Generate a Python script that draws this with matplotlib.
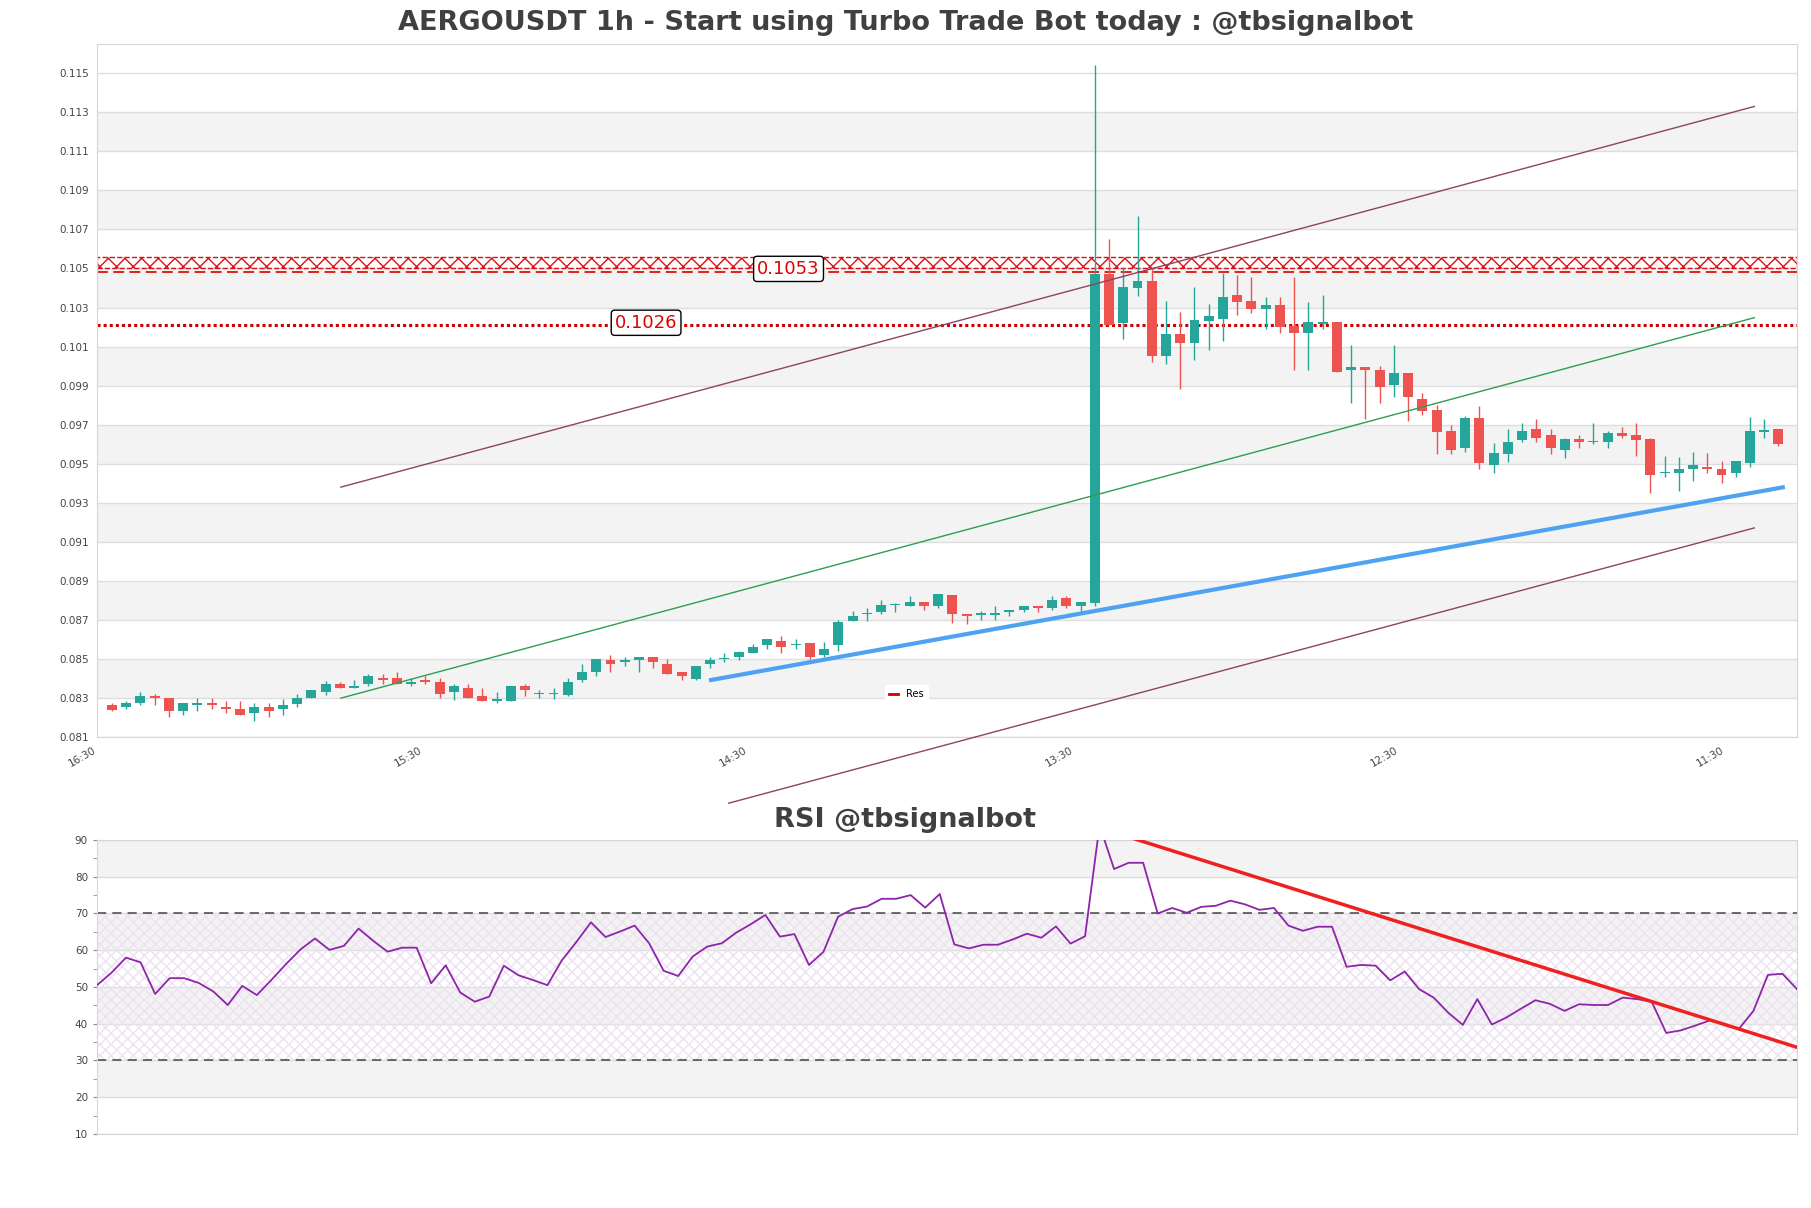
import numpy as np
import matplotlib
matplotlib.use('Agg')
import matplotlib.pyplot as plt
from matplotlib.lines import Line2D

#================================
# Data
#================================
opens = [0.08264, 0.08252, 0.08273, 0.08310, 0.08300, 0.08232, 0.08262, 0.08276, 0.08256, 0.08245,
         0.08221, 0.08254, 0.08242, 0.08271, 0.08298, 0.08329, 0.08372, 0.08350, 0.08370, 0.08403,
         0.08403, 0.08372, 0.08394, 0.08382, 0.08329, 0.08351, 0.08310, 0.08285, 0.08285, 0.08362,
         0.08321, 0.08319, 0.08317, 0.08391, 0.08432, 0.08495, 0.08483, 0.08495, 0.08510, 0.08476,
         0.08433, 0.08399, 0.08474, 0.08498, 0.08509, 0.08531, 0.08570, 0.08594, 0.08572, 0.08584,
         0.08519, 0.08570, 0.08693, 0.08729, 0.08740, 0.08777, 0.08770, 0.08794, 0.08770, 0.08825,
         0.08731, 0.08727, 0.08727, 0.08741, 0.08750, 0.08772, 0.08760, 0.08813, 0.08772, 0.08788,
         0.10473, 0.10221, 0.10401, 0.10435, 0.10050, 0.10164, 0.10116, 0.10230, 0.10240, 0.10363,
         0.10333, 0.10293, 0.10312, 0.10206, 0.10168, 0.10217, 0.10225, 0.09982, 0.09993, 0.09982,
         0.09902, 0.09963, 0.09832, 0.09773, 0.09666, 0.09578, 0.09732, 0.09493, 0.09549, 0.09620,
         0.09676, 0.09645, 0.09570, 0.09625, 0.09609, 0.09613, 0.09655, 0.09645, 0.09625, 0.09452,
         0.09452, 0.09474, 0.09484, 0.09474, 0.09454, 0.09505, 0.09664, 0.09676]
highs = [0.08274, 0.08286, 0.08331, 0.08321, 0.08300, 0.08276, 0.08300, 0.08300, 0.08286, 0.08286,
         0.08274, 0.08274, 0.08295, 0.08321, 0.08341, 0.08386, 0.08382, 0.08392, 0.08425, 0.08425,
         0.08435, 0.08403, 0.08415, 0.08403, 0.08372, 0.08372, 0.08351, 0.08331, 0.08362, 0.08372,
         0.08343, 0.08351, 0.08403, 0.08476, 0.08500, 0.08521, 0.08509, 0.08510, 0.08510, 0.08500,
         0.08433, 0.08466, 0.08510, 0.08531, 0.08543, 0.08574, 0.08604, 0.08615, 0.08604, 0.08584,
         0.08589, 0.08700, 0.08743, 0.08760, 0.08804, 0.08784, 0.08823, 0.08794, 0.08835, 0.08825,
         0.08731, 0.08744, 0.08770, 0.08753, 0.08772, 0.08772, 0.08823, 0.08823, 0.08792, 0.11542,
         0.10653, 0.10505, 0.10771, 0.10505, 0.10335, 0.10278, 0.10405, 0.10316, 0.10477, 0.10467,
         0.10454, 0.10354, 0.10354, 0.10454, 0.10329, 0.10363, 0.10225, 0.10107, 0.09993, 0.10002,
         0.10107, 0.09963, 0.09864, 0.09801, 0.09696, 0.09744, 0.09796, 0.09604, 0.09676, 0.09710,
         0.09731, 0.09676, 0.09633, 0.09645, 0.09710, 0.09666, 0.09686, 0.09710, 0.09633, 0.09542,
         0.09532, 0.09561, 0.09553, 0.09512, 0.09512, 0.09741, 0.09731, 0.09676]
lows = [0.08232, 0.08244, 0.08262, 0.08262, 0.08201, 0.08211, 0.08232, 0.08244, 0.08223, 0.08211,
        0.08180, 0.08201, 0.08211, 0.08252, 0.08298, 0.08317, 0.08350, 0.08350, 0.08362, 0.08370,
        0.08372, 0.08360, 0.08372, 0.08298, 0.08291, 0.08298, 0.08285, 0.08274, 0.08285, 0.08309,
        0.08300, 0.08297, 0.08309, 0.08380, 0.08411, 0.08432, 0.08462, 0.08432, 0.08452, 0.08421,
        0.08391, 0.08394, 0.08452, 0.08483, 0.08497, 0.08531, 0.08550, 0.08531, 0.08550, 0.08500,
        0.08509, 0.08541, 0.08693, 0.08693, 0.08729, 0.08740, 0.08770, 0.08750, 0.08760, 0.08685,
        0.08681, 0.08697, 0.08697, 0.08719, 0.08741, 0.08741, 0.08753, 0.08762, 0.08741, 0.08769,
        0.10211, 0.10139, 0.10361, 0.10021, 0.10012, 0.09883, 0.10031, 0.10082, 0.10126, 0.10263,
        0.10272, 0.10188, 0.10168, 0.09978, 0.09978, 0.10188, 0.09970, 0.09809, 0.09727, 0.09809,
        0.09841, 0.09718, 0.09750, 0.09548, 0.09548, 0.09560, 0.09471, 0.09452, 0.09508, 0.09611,
        0.09611, 0.09549, 0.09527, 0.09580, 0.09602, 0.09580, 0.09633, 0.09539, 0.09351, 0.09431,
        0.09361, 0.09412, 0.09454, 0.09402, 0.09431, 0.09484, 0.09633, 0.09590]
closes = [0.08240, 0.08276, 0.08310, 0.08298, 0.08232, 0.08274, 0.08276, 0.08262, 0.08244, 0.08211,
          0.08254, 0.08232, 0.08264, 0.08300, 0.08341, 0.08372, 0.08350, 0.08362, 0.08415, 0.08391,
          0.08372, 0.08382, 0.08382, 0.08319, 0.08362, 0.08298, 0.08285, 0.08297, 0.08362, 0.08339,
          0.08324, 0.08322, 0.08384, 0.08435, 0.08500, 0.08473, 0.08495, 0.08510, 0.08483, 0.08421,
          0.08411, 0.08466, 0.08497, 0.08504, 0.08533, 0.08563, 0.08604, 0.08560, 0.08575, 0.08509,
          0.08551, 0.08688, 0.08722, 0.08733, 0.08774, 0.08780, 0.08794, 0.08770, 0.08835, 0.08729,
          0.08719, 0.08734, 0.08734, 0.08753, 0.08772, 0.08760, 0.08803, 0.08772, 0.08792, 0.10473,
          0.10211, 0.10405, 0.10435, 0.10050, 0.10164, 0.10116, 0.10234, 0.10255, 0.10354, 0.10329,
          0.10291, 0.10312, 0.10198, 0.10168, 0.10225, 0.10225, 0.09970, 0.09993, 0.09982, 0.09892,
          0.09963, 0.09841, 0.09769, 0.09662, 0.09570, 0.09732, 0.09503, 0.09553, 0.09613, 0.09666,
          0.09633, 0.09580, 0.09625, 0.09611, 0.09614, 0.09655, 0.09642, 0.09621, 0.09442, 0.09459,
          0.09474, 0.09493, 0.09474, 0.09442, 0.09512, 0.09666, 0.09674, 0.09602]

rsi = [50.5, 53.9, 58.0, 56.7, 48.1, 52.4, 52.4, 51.1, 48.8, 45.1,
       50.3, 47.8, 51.9, 56.2, 60.2, 63.2, 60.1, 61.2, 65.9, 62.6,
       59.6, 60.7, 60.7, 51.0, 55.9, 48.5, 46.0, 47.4, 55.8, 53.2,
       51.9, 50.5, 57.3, 62.3, 67.6, 63.6, 65.1, 66.7, 61.9, 54.4,
       53.0, 58.3, 61.0, 61.9, 64.8, 67.1, 69.6, 63.7, 64.4, 56.0,
       59.6, 69.1, 71.2, 71.9, 74.0, 74.0, 75.0, 71.6, 75.3, 61.6,
       60.5, 61.5, 61.5, 62.9, 64.5, 63.4, 66.5, 61.8, 63.8, 94.0,
       82.1, 83.8, 83.8, 70.0, 71.5, 70.2, 71.8, 72.1, 73.5, 72.5,
       71.0, 71.5, 66.7, 65.3, 66.4, 66.4, 55.5, 56.0, 55.8, 51.8,
       54.2, 49.4, 47.1, 43.0, 39.7, 46.7, 39.8, 41.7, 44.1, 46.4,
       45.4, 43.5, 45.3, 45.1, 45.1, 47.1, 46.7, 46.0, 37.5, 38.2,
       39.5, 40.9, 39.9, 38.6, 43.5, 53.3, 53.6, 49.4]

time_labels = ['16:30', '15:30', '14:30', '13:30', '12:30', '11:30']

# trend lines: (start index, start price, end index, end price)
channel_upper = (16.07, 0.09380, 115.3, 0.11330)
channel_mid = (16.07, 0.08299, 115.3, 0.10248)
channel_lower = (43.3, 0.07761, 115.3, 0.09171)
support_line = (42.06, 0.08392, 117.3, 0.09379)
rsi_trend = (69, 93.3, 117, 33.6)

# levels
res_zone = (0.10504, 0.10561)
res_line = 0.10484
res_label = '0.1053'
sup_line = 0.10213
sup_label = '0.1026'

GREEN = '#26a69a'
RED = '#ef5350'
BAND = '#f3f3f3'
GRID = '#dedede'

x = np.arange(len(opens))
o = np.array(opens)
h = np.array(highs)
l = np.array(lows)
c = np.array(closes)

fig = plt.figure(figsize=(18.11, 12.08), dpi=100)

#================================
# Price panel
#================================
ax = fig.add_axes([0.05356, 0.38990, 0.93871, 0.57368])
ymin, ymax = 0.081, 0.1165
ticks = np.arange(0.081, 0.1151, 0.002)
for t in ticks[1:-1:2]:
    ax.axhspan(t, t + 0.002, color=BAND, zorder=0, lw=0)
for t in ticks:
    ax.axhline(t, color=GRID, lw=1, zorder=0.5)

up = c >= o
cols = np.where(up, GREEN, RED)
ax.vlines(x, l, h, colors=cols, lw=1, zorder=3)
body_lo = np.minimum(o, c)
body_h = np.maximum(np.abs(c - o), 0.00004)
ax.bar(x, body_h, bottom=body_lo, width=0.7, color=cols, zorder=4, lw=0)

# channel
for ln, colr in [(channel_upper, '#8b4562'), (channel_mid, '#2e9e4f')]:
    ax.plot([ln[0], ln[2]], [ln[1], ln[3]], color=colr, lw=1, zorder=5)
ax.plot([channel_lower[0], channel_lower[2]], [channel_lower[1], channel_lower[3]],
        color='#8b4562', lw=1, zorder=5, clip_on=False)
ax.plot([support_line[0], support_line[2]], [support_line[1], support_line[3]],
        color='#4da3f2', lw=3, zorder=5)

# resistance zone
ax.axhspan(res_zone[0], res_zone[1], facecolor='none', edgecolor='#dd1111',
           hatch='xx', lw=1, ls='--', zorder=2)
ax.axhline(res_line, color='#dd1111', lw=1.3, ls=(0, (6, 3)), zorder=2)
ax.axhline(sup_line, color='#cc0000', lw=2.2, ls=(0, (1, 1)), zorder=2)

box = dict(boxstyle='round,pad=0.2', fc='white', ec='black', lw=1)
ax.text(47.5, 0.10498, res_label, color='#e00000', fontsize=13, ha='center', va='center',
        bbox=box, zorder=6)
ax.text(37.5, 0.10222, sup_label, color='#e00000', fontsize=13, ha='center', va='center',
        bbox=box, zorder=6)

ax.set_xlim(-1.05, 118.3)
ax.set_ylim(ymin, ymax)
ax.set_yticks(ticks)
ax.set_yticklabels([f'{t:.3f}' for t in ticks])
ax.set_xticks(np.linspace(-1, 113.3, 6))
ax.set_xticklabels(time_labels, rotation=30, ha='right')
ax.tick_params(axis='both', length=0, labelsize=7.5, labelcolor='#444444', pad=6)
for s in ax.spines.values():
    s.set_color('#d6d6d6')

res_handle = Line2D([], [], color='#cc0000', lw=2)
ax.legend([res_handle], ['Res'], loc='lower center', bbox_to_anchor=(0.476, 0.042), fontsize=7,
          frameon=True, framealpha=1, edgecolor='white', handlelength=1)

fig.text(0.5, 0.981, 'AERGOUSDT 1h - Start using Turbo Trade Bot today : @tbsignalbot',
         ha='center', va='center', fontsize=19.5, fontweight='bold', color='#404040')

#================================
# RSI panel
#================================
ax2 = fig.add_axes([0.05356, 0.06126, 0.93871, 0.24338])
for lo in [20, 40, 60, 80]:
    ax2.axhspan(lo, lo + 10, color=BAND, zorder=0, lw=0)
for t in range(10, 91, 10):
    ax2.axhline(t, color=GRID, lw=1, zorder=0.5)
ax2.fill_between([0, len(rsi) - 1], 30, 70, facecolor='none', edgecolor='#ece2f1',
                 hatch='xxx', lw=0, zorder=1)
ax2.axhline(70, color='#444444', lw=1.1, ls=(0, (6, 4)), zorder=2)
ax2.axhline(30, color='#444444', lw=1.1, ls=(0, (6, 4)), zorder=2)
ax2.plot(x, rsi, color='#8e24aa', lw=1.3, zorder=3)
ax2.plot([rsi_trend[0], rsi_trend[2]], [rsi_trend[1], rsi_trend[3]], color='#f02020', lw=2.5, zorder=4)

ax2.set_xlim(0, len(rsi) - 1)
ax2.set_ylim(10, 90)
ax2.set_yticks(range(10, 91, 10))
ax2.set_yticks(range(15, 90, 10), minor=True)
ax2.set_xticks([])
ax2.tick_params(axis='y', which='both', length=3, color='#888888', labelsize=7.5, labelcolor='#444444')
for s in ax2.spines.values():
    s.set_color('#d6d6d6')

fig.text(0.5, 0.321, 'RSI @tbsignalbot', ha='center', va='center', fontsize=19.5,
         fontweight='bold', color='#404040')

plt.savefig('out.png', dpi=100)
